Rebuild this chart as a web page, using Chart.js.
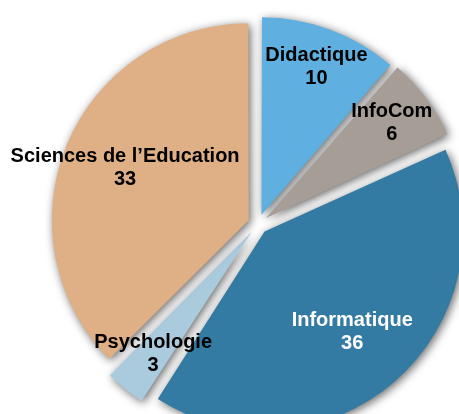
<!DOCTYPE html>
<html>
<head>
<meta charset="utf-8">
<script src="https://cdn.jsdelivr.net/npm/chart.js@4"></script>
<style>
  body { margin: 0; background: #fff; }
  #wrap { width: 459px; height: 414px; position: relative; }
</style>
</head>
<body>
<div id="wrap"><canvas id="graph"></canvas></div>
<script>
// données
const labels = ["Didactique", "InfoCom", "Informatique", "Psychologie", "Sciences de l’Education"];
const values = [10, 6, 36, 3, 33];
const colors = ["#5FB0E0", "#A59D96", "#347BA3", "#AACADE", "#DFAF85"];
const textColors = ["#000", "#000", "#fff", "#000", "#000"];

// ombre portée sous les parts
const shadowPlugin = {
  id: "shadow",
  beforeDatasetsDraw(chart) {
    const ctx = chart.ctx;
    ctx.save();
    ctx.shadowColor = "rgba(0,0,0,0.6)";
    ctx.shadowBlur = 10;
    ctx.shadowOffsetX = 2;
    ctx.shadowOffsetY = 2;
  },
  afterDatasetsDraw(chart) {
    chart.ctx.restore();
  },
};

// étiquettes dans les parts (nom + valeur)
const labelPlugin = {
  id: "sliceLabels",
  afterDraw(chart) {
    const ctx = chart.ctx;
    const meta = chart.getDatasetMeta(0);
    ctx.save();
    ctx.font = "bold 20px 'Liberation Sans', Arial, sans-serif";
    ctx.textAlign = "center";
    ctx.textBaseline = "middle";
    meta.data.forEach((arc, i) => {
      const { x, y, startAngle, endAngle, outerRadius } = arc.getProps(["x", "y", "startAngle", "endAngle", "outerRadius"], true);
      const mid = (startAngle + endAngle) / 2;
      const shift = (arc.options.offset || 0) / 4;
      const frac = endAngle - startAngle > Math.PI / 2 ? 0.69 : 0.81;
      const r = shift + outerRadius * frac;
      const lx = x + Math.cos(mid) * r;
      const ly = y + Math.sin(mid) * r;
      ctx.fillStyle = textColors[i];
      ctx.fillText(labels[i], lx, ly - 12);
      ctx.fillText(String(values[i]), lx, ly + 11);
    });
    ctx.restore();
  },
};

const config = {
  type: "pie",
  data: {
    labels: labels,
    datasets: [
      {
        data: values,
        backgroundColor: colors,
        borderWidth: 0,
        offset: 40,
        hoverOffset: 0,
        clip: false,
      },
    ],
  },
  options: {
    responsive: true,
    maintainAspectRatio: false,
    animation: false,
    events: [],
    radius: 194,
    layout: {
      padding: { left: 57, right: 0, top: 34, bottom: 0 },
    },
    plugins: {
      legend: { display: false },
      tooltip: { enabled: false },
    },
  },
  plugins: [shadowPlugin, labelPlugin],
};

let myChart = new Chart(document.getElementById("graph"), config);
</script>
</body>
</html>
